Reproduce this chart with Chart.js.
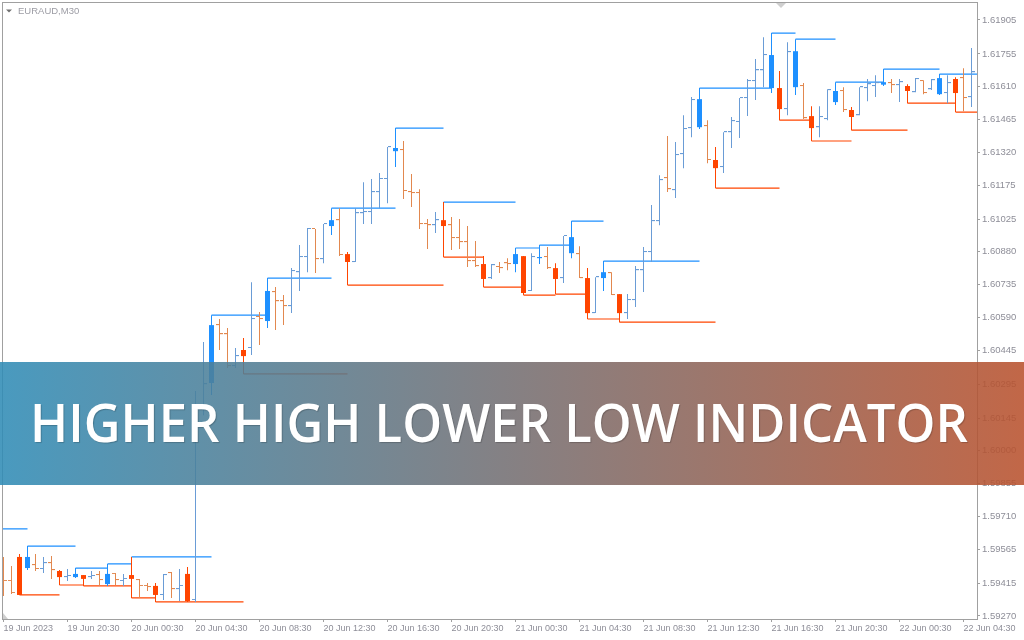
<!DOCTYPE html>
<html>
<head>
<meta charset="utf-8">
<script src="https://cdn.jsdelivr.net/npm/chart.js@4.4.0/dist/chart.umd.min.js"></script>
<style>
  html, body { margin: 0; padding: 0; background: #fff; }
  #wrap { width: 1024px; height: 640px; }
</style>
</head>
<body>
<div id="wrap"><canvas id="chart" width="1024" height="640"></canvas></div>
<script>
// EURAUD M30 with Higher High / Lower Low levels

const symbolTitle = 'EURAUD,M30';
const bannerText = 'HIGHER HIGH LOWER LOW INDICATOR';

const xTickLabels = ['19 Jun 2023', '19 Jun 20:30', '20 Jun 00:30', '20 Jun 04:30', '20 Jun 08:30',
    '20 Jun 12:30', '20 Jun 16:30', '20 Jun 20:30', '21 Jun 00:30', '21 Jun 04:30', '21 Jun 08:30',
    '21 Jun 12:30', '21 Jun 16:30', '21 Jun 20:30', '22 Jun 00:30', '22 Jun 04:30'];
const barsPerLabel = 8; // 4 hours of M30 bars

const yTickValues = [1.61905, 1.61755, 1.61610, 1.61465, 1.61320, 1.61175, 1.61025, 1.60880, 1.60735,
    1.60590, 1.60445, 1.60295, 1.60145, 1.60000, 1.59855, 1.59710, 1.59565, 1.59415, 1.59270];

const opens = [
    1.59495, 1.59425, 1.59531, 1.59482, 1.59495, 1.59478, 1.59504, 1.59469, 1.59442, 1.59442,
    1.59451, 1.59442, 1.59451, 1.59411, 1.59456, 1.59425, 1.59451, 1.59429, 1.59403, 1.59403,
    1.59363, 1.59460, 1.59389, 1.59456, 1.59341, 1.60189, 1.60300, 1.60556, 1.60516, 1.60375,
    1.60446, 1.60455, 1.60592, 1.60574, 1.60702, 1.60662, 1.60640, 1.60790, 1.60857, 1.60981,
    1.60848, 1.60994, 1.61020, 1.60870, 1.60835, 1.61051, 1.61056, 1.61144, 1.61202, 1.61325,
    1.61330, 1.61144, 1.61140, 1.61003, 1.60998, 1.61020, 1.60998, 1.60941, 1.60923, 1.60839,
    1.60826, 1.60764, 1.60813, 1.60830, 1.60826, 1.60861, 1.60707, 1.60852, 1.60857, 1.60808,
    1.60764, 1.60874, 1.60870, 1.60764, 1.60609, 1.60764, 1.60786, 1.60693, 1.60609, 1.60667,
    1.60799, 1.60879, 1.61016, 1.61206, 1.61153, 1.61312, 1.61427, 1.61431, 1.61436, 1.61286,
    1.61255, 1.61409, 1.61454, 1.61560, 1.61635, 1.61683, 1.61604, 1.61604, 1.61511, 1.61608,
    1.61613, 1.61480, 1.61431, 1.61467, 1.61542, 1.61591, 1.61507, 1.61484, 1.61604, 1.61613,
    1.61619, 1.61626, 1.61617, 1.61613, 1.61586, 1.61635, 1.61599, 1.61577, 1.61582, 1.61644,
    1.61648, 1.61564];
const highs = [
    1.59531, 1.59491, 1.59544, 1.59579, 1.59544, 1.59531, 1.59535, 1.59473, 1.59478, 1.59482,
    1.59451, 1.59469, 1.59469, 1.59500, 1.59460, 1.59456, 1.59531, 1.59434, 1.59416, 1.59416,
    1.59456, 1.59464, 1.59478, 1.59487, 1.60265, 1.60481, 1.60600, 1.60583, 1.60543, 1.60455,
    1.60499, 1.60746, 1.60614, 1.60764, 1.60724, 1.60689, 1.60808, 1.60910, 1.60985, 1.60981,
    1.61003, 1.61073, 1.61073, 1.60879, 1.61073, 1.61188, 1.61202, 1.61228, 1.61343, 1.61427,
    1.61370, 1.61224, 1.61157, 1.61025, 1.61056, 1.61100, 1.61034, 1.61025, 1.60994, 1.60928,
    1.60861, 1.60826, 1.60835, 1.60852, 1.60897, 1.60861, 1.60874, 1.60910, 1.60901, 1.60830,
    1.60950, 1.61016, 1.60905, 1.60808, 1.60768, 1.60839, 1.60790, 1.60693, 1.60693, 1.60817,
    1.60901, 1.61087, 1.61219, 1.61392, 1.61365, 1.61484, 1.61564, 1.61604, 1.61462, 1.61343,
    1.61409, 1.61476, 1.61560, 1.61644, 1.61732, 1.61829, 1.61847, 1.61679, 1.61807, 1.61820,
    1.61626, 1.61524, 1.61524, 1.61599, 1.61630, 1.61608, 1.61520, 1.61608, 1.61644, 1.61661,
    1.61688, 1.61644, 1.61644, 1.61621, 1.61648, 1.61639, 1.61644, 1.61666, 1.61661, 1.61652,
    1.61692, 1.61781];
const lows = [
    1.59358, 1.59367, 1.59363, 1.59473, 1.59469, 1.59460, 1.59434, 1.59407, 1.59425, 1.59438,
    1.59403, 1.59434, 1.59403, 1.59403, 1.59407, 1.59403, 1.59350, 1.59350, 1.59381, 1.59332,
    1.59341, 1.59350, 1.59336, 1.59332, 1.59332, 1.60158, 1.60247, 1.60446, 1.60366, 1.60366,
    1.60340, 1.60424, 1.60468, 1.60543, 1.60534, 1.60556, 1.60609, 1.60707, 1.60790, 1.60786,
    1.60830, 1.60954, 1.60861, 1.60733, 1.60835, 1.61003, 1.61003, 1.61073, 1.61095, 1.61255,
    1.61113, 1.61078, 1.60981, 1.60892, 1.60963, 1.60857, 1.60888, 1.60892, 1.60813, 1.60813,
    1.60724, 1.60760, 1.60786, 1.60799, 1.60790, 1.60689, 1.60707, 1.60826, 1.60804, 1.60693,
    1.60742, 1.60852, 1.60764, 1.60583, 1.60609, 1.60707, 1.60689, 1.60569, 1.60583, 1.60636,
    1.60702, 1.60835, 1.60998, 1.61144, 1.61118, 1.61250, 1.61387, 1.61423, 1.61272, 1.61162,
    1.61228, 1.61339, 1.61383, 1.61480, 1.61551, 1.61608, 1.61582, 1.61462, 1.61484, 1.61573,
    1.61467, 1.61370, 1.61387, 1.61462, 1.61529, 1.61498, 1.61418, 1.61484, 1.61546, 1.61564,
    1.61613, 1.61582, 1.61542, 1.61537, 1.61586, 1.61577, 1.61595, 1.61573, 1.61537, 1.61498,
    1.61502, 1.61520];
const closes = [
    1.59425, 1.59372, 1.59363, 1.59531, 1.59478, 1.59504, 1.59473, 1.59442, 1.59447, 1.59456,
    1.59434, 1.59447, 1.59429, 1.59456, 1.59429, 1.59434, 1.59434, 1.59403, 1.59398, 1.59363,
    1.59451, 1.59389, 1.59403, 1.59336, 1.60189, 1.60295, 1.60556, 1.60516, 1.60375, 1.60419,
    1.60419, 1.60583, 1.60583, 1.60707, 1.60662, 1.60640, 1.60795, 1.60857, 1.60981, 1.60848,
    1.61003, 1.61020, 1.60866, 1.60835, 1.61051, 1.61056, 1.61144, 1.61202, 1.61343, 1.61339,
    1.61149, 1.61140, 1.61003, 1.60998, 1.61020, 1.60994, 1.60941, 1.60923, 1.60839, 1.60817,
    1.60760, 1.60821, 1.60808, 1.60826, 1.60870, 1.60698, 1.60857, 1.60857, 1.60808, 1.60760,
    1.60950, 1.60945, 1.60764, 1.60609, 1.60768, 1.60790, 1.60689, 1.60609, 1.60667, 1.60799,
    1.60879, 1.61016, 1.61197, 1.61157, 1.61308, 1.61423, 1.61551, 1.61555, 1.61286, 1.61250,
    1.61409, 1.61458, 1.61560, 1.61635, 1.61683, 1.61750, 1.61750, 1.61511, 1.61763, 1.61767,
    1.61471, 1.61427, 1.61476, 1.61595, 1.61591, 1.61507, 1.61476, 1.61608, 1.61621, 1.61626,
    1.61630, 1.61617, 1.61630, 1.61591, 1.61644, 1.61582, 1.61639, 1.61648, 1.61626, 1.61582,
    1.61560, 1.61674];

// bars the indicator paints as candles
const signalBars = [2, 3, 7, 9, 10, 13, 16, 19, 23, 26, 30, 33, 41, 43, 49, 55, 60, 64, 65, 67,
    69, 71, 73, 75, 77, 87, 89, 96, 97, 99, 101, 104, 106, 110, 113, 117, 119];

// level lines: start bar + price, each runs to the next start
const hhFrom = [-1, 3, 9, 13, 16, 26, 33, 41, 49, 55, 64, 67, 71, 75, 87, 96, 99, 104, 110, 117];
const hhLevel = [1.59655, 1.59579, 1.59482, 1.59500, 1.59531, 1.60600, 1.60764, 1.61073, 1.61427, 1.61100,
    1.60897, 1.60910, 1.61016, 1.60839, 1.61604, 1.61847, 1.61820, 1.61630, 1.61688, 1.61666];
const llFrom = [2, 7, 10, 16, 19, 30, 43, 55, 60, 65, 69, 73, 77, 89, 97, 101, 106, 113, 119];
const llLevel = [1.59363, 1.59407, 1.59403, 1.59350, 1.59332, 1.60340, 1.60733, 1.60857, 1.60724, 1.60689,
    1.60693, 1.60583, 1.60569, 1.61162, 1.61462, 1.61370, 1.61418, 1.61537, 1.61498];

const X_MIN = -0.1875;
const X_MAX = 121.6875;
const Y_MIN = 1.592567;
const Y_MAX = 1.619845;

const UP_BAR = '#6a9cd6';
const DOWN_BAR = '#e2884f';
const UP_CANDLE = '#1e90ff';
const DOWN_CANDLE = '#ff4500';
const AXIS = '#a0a0a0';
const LABEL = '#8e8e98';

// ========== Helpers ==========

const isUp = i => closes[i] >= opens[i];
const isSignal = new Set(signalBars);
const plainIdx = opens.map((_, i) => i).filter(i => !isSignal.has(i));

function tickImg(color, side) {
    const c = document.createElement('canvas');
    c.width = 7;
    c.height = 2;
    const g = c.getContext('2d');
    g.fillStyle = color;
    g.fillRect(side === 'open' ? 0 : 4, 0, 3, 1);
    return c;
}
const imgs = {
    upOpen: tickImg(UP_BAR, 'open'), upClose: tickImg(UP_BAR, 'close'),
    downOpen: tickImg(DOWN_BAR, 'open'), downClose: tickImg(DOWN_BAR, 'close')
};

function levelSegments(from, level) {
    const pts = [];
    from.forEach((f, k) => {
        const to = k + 1 < from.length ? from[k + 1] : X_MAX;
        pts.push({ x: f, y: level[k] }, { x: to, y: level[k] }, { x: to, y: null });
    });
    return pts;
}

const barColor = c => isUp(c.raw.x) ? UP_BAR : DOWN_BAR;
const candleColor = c => isUp(c.raw.x) ? UP_CANDLE : DOWN_CANDLE;

// ========== Decorations ==========

const frame = {
    id: 'frame',
    afterDatasetsDraw(chart) {
        const { ctx, chartArea: a } = chart;
        ctx.save();
        ctx.strokeStyle = AXIS;
        ctx.lineWidth = 1;
        ctx.strokeRect(a.left + 0.5, a.top + 0.5, a.right - a.left, a.bottom - a.top);

        // symbol caption
        ctx.fillStyle = '#707070';
        ctx.beginPath();
        ctx.moveTo(6, 9.5); ctx.lineTo(12, 9.5); ctx.lineTo(9, 12.5);
        ctx.fill();
        ctx.fillStyle = '#9c9ca4';
        ctx.font = '9.5px "Liberation Sans"';
        ctx.textBaseline = 'alphabetic';
        ctx.fillText(symbolTitle, 18, 14);

        // chart shift marker
        ctx.fillStyle = '#cfcfcf';
        ctx.beginPath();
        ctx.moveTo(776, 3); ctx.lineTo(786, 3); ctx.lineTo(781, 8);
        ctx.fill();
        // corner marker
        ctx.beginPath();
        ctx.moveTo(3, 613); ctx.lineTo(3, 619); ctx.lineTo(8, 619);
        ctx.fill();
        ctx.restore();
    }
};

const banner = {
    id: 'banner',
    afterDraw(chart) {
        const { ctx } = chart;
        ctx.save();
        const grad = ctx.createLinearGradient(0, 0, 1024, 0);
        grad.addColorStop(0, 'rgba(48,140,182,0.88)');
        grad.addColorStop(1, 'rgba(185,82,46,0.88)');
        ctx.fillStyle = grad;
        ctx.fillRect(0, 362, 1024, 123);

        ctx.font = '600 52px "Open Sans"';
        const w = ctx.measureText(bannerText).width;
        ctx.translate(30, 442);
        ctx.scale(938 / w, 1);
        ctx.shadowColor = 'rgba(0,0,0,0.2)';
        ctx.shadowOffsetX = 1;
        ctx.shadowOffsetY = 1;
        ctx.shadowBlur = 1;
        ctx.fillStyle = '#ffffff';
        ctx.textBaseline = 'alphabetic';
        ctx.fillText(bannerText, 0, 0);
        ctx.restore();
    }
};

// ========== Chart ==========

const ctx = document.getElementById('chart').getContext('2d');

new Chart(ctx, {
    type: 'bar',
    data: {
        datasets: [
            {
                type: 'line', order: 6, label: 'HH',
                data: levelSegments(hhFrom, hhLevel),
                borderColor: UP_CANDLE, borderWidth: 1.2, pointRadius: 0, tension: 0, spanGaps: false, clip: 0
            },
            {
                type: 'line', order: 6, label: 'LL',
                data: levelSegments(llFrom, llLevel),
                borderColor: DOWN_CANDLE, borderWidth: 1.2, pointRadius: 0, tension: 0, spanGaps: false, clip: 0
            },
            {
                type: 'bar', order: 5, grouped: false, barThickness: 1, inflateAmount: 0, borderWidth: 0,
                data: plainIdx.map(i => ({ x: i, y: [lows[i], highs[i]] })),
                backgroundColor: barColor
            },
            {
                type: 'scatter', order: 4, pointRadius: 3,
                data: plainIdx.map(i => ({ x: i, y: opens[i] })),
                pointStyle: c => isUp(c.raw.x) ? imgs.upOpen : imgs.downOpen
            },
            {
                type: 'scatter', order: 4, pointRadius: 3,
                data: plainIdx.map(i => ({ x: i, y: closes[i] })),
                pointStyle: c => isUp(c.raw.x) ? imgs.upClose : imgs.downClose
            },
            {
                type: 'bar', order: 3, grouped: false, barThickness: 1, inflateAmount: 0, borderWidth: 0,
                data: signalBars.map(i => ({ x: i, y: [lows[i], highs[i]] })),
                backgroundColor: candleColor
            },
            {
                type: 'bar', order: 2, grouped: false, barThickness: 5, inflateAmount: 0, borderWidth: 0,
                data: signalBars.map(i => ({ x: i, y: [opens[i], closes[i]] })),
                backgroundColor: candleColor
            }
        ]
    },
    options: {
        responsive: false,
        animation: false,
        devicePixelRatio: 1,
        events: [],
        layout: { autoPadding: false, padding: { left: 2, top: 2, right: 0, bottom: 0 } },
        plugins: { legend: { display: false }, tooltip: { enabled: false } },
        scales: {
            x: {
                type: 'linear', min: X_MIN, max: X_MAX, offset: false, position: 'bottom',
                grid: { drawOnChartArea: false, drawTicks: true, tickLength: 3, color: AXIS, offset: false },
                border: { display: false },
                ticks: {
                    autoSkip: false, maxRotation: 0, minRotation: 0, align: 'start', padding: 1,
                    color: LABEL, font: { family: 'Liberation Sans', size: 9 },
                    callback: (v, i) => xTickLabels[i]
                },
                afterBuildTicks: s => { s.ticks = xTickLabels.map((_, k) => ({ value: k * barsPerLabel })); },
                afterFit: s => { s.height = 21; s.paddingLeft = 0; s.paddingRight = 0; }
            },
            y: {
                type: 'linear', position: 'right', min: Y_MIN, max: Y_MAX,
                grid: { drawOnChartArea: false, drawTicks: true, tickLength: 3, color: AXIS },
                border: { display: false },
                ticks: {
                    padding: 2, color: LABEL, font: { family: 'Liberation Sans', size: 9.5 },
                    callback: v => v.toFixed(5)
                },
                afterBuildTicks: s => { s.ticks = yTickValues.map(v => ({ value: v })); },
                afterFit: s => { s.width = 47; s.paddingTop = 0; s.paddingBottom = 0; }
            }
        }
    },
    plugins: [frame, banner]
});
</script>
</body>
</html>
